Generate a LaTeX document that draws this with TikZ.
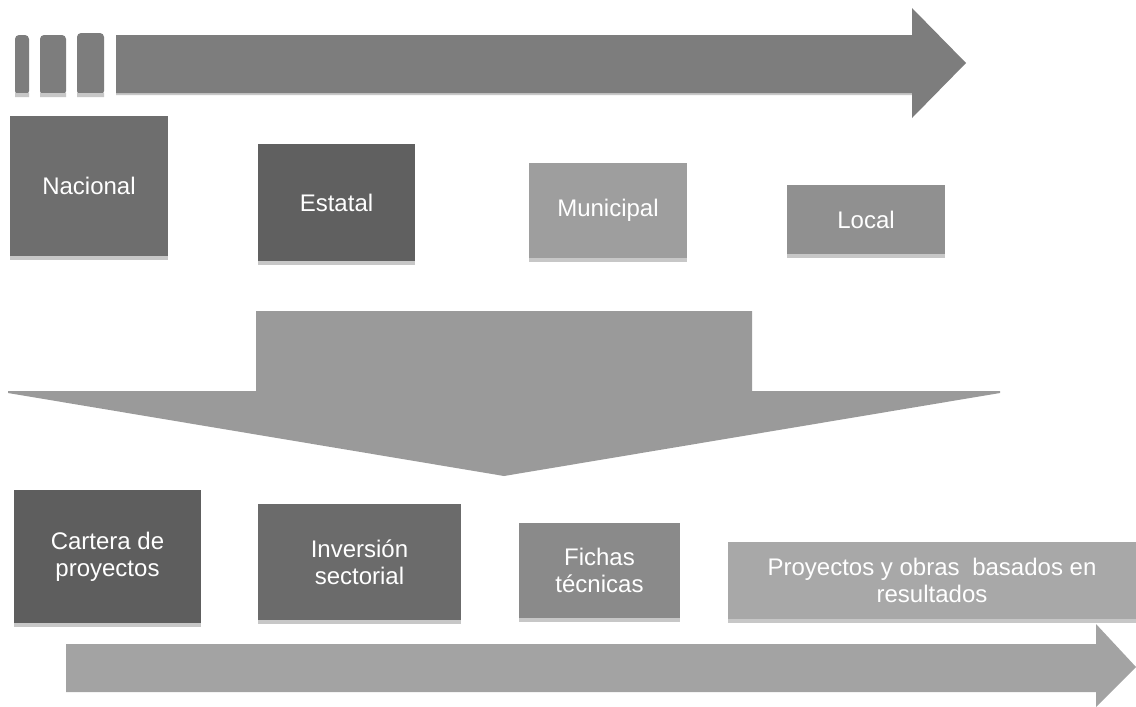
\documentclass[tikz,border=0pt]{standalone}
\usepackage{fontspec}
\setmainfont{Liberation Sans}
\begin{document}
\begin{tikzpicture}[x=1pt,y=-1pt,
  lvl/.style={fill=#1, draw=none, text=white, align=center, inner sep=0pt,
    font=\fontsize{24}{27}\selectfont},
  band/.style={fill=black!22},
]
\definecolor{cNac}{HTML}{6E6E6E}
\definecolor{cEst}{HTML}{606060}
\definecolor{cMun}{HTML}{9E9E9E}
\definecolor{cLoc}{HTML}{909090}
\definecolor{cTop}{HTML}{7D7D7D}
\definecolor{cDown}{HTML}{9A9A9A}
\definecolor{cCar}{HTML}{5E5E5E}
\definecolor{cInv}{HTML}{6B6B6B}
\definecolor{cFic}{HTML}{8A8A8A}
\definecolor{cPro}{HTML}{A8A8A8}
\definecolor{cBot}{HTML}{A3A3A3}
\useasboundingbox (0,0) rectangle (1136,707);
\fill[white] (0,0) rectangle (1136,707);

% top bars and arrow
\fill[cTop, rounded corners=4pt] (15,35) rectangle (29,95);
\fill[cTop, rounded corners=4pt] (40,35) rectangle (66,95);
\fill[cTop, rounded corners=4pt] (77,33) rectangle (104,95);
\fill[band] (15,93) rectangle (29,97) (40,93) rectangle (66,97) (77,93) rectangle (104,97) (116,91) rectangle (912,95);
\fill[cTop] (116,35) -- (912,35) -- (912,8) -- (966,63) -- (912,118) -- (912,93) -- (116,93) -- cycle;

% top level boxes
\node[lvl=cNac, minimum width=158pt, minimum height=140pt] (nac) at (89,186) {Nacional};
\node[lvl=cEst, minimum width=157pt, minimum height=117pt] (est) at (336.5,202.5) {Estatal};
\node[lvl=cMun, minimum width=158pt, minimum height=95pt] (mun) at (608,210.5) {Municipal};
\node[lvl=cLoc, minimum width=158pt, minimum height=69pt] (loc) at (866,219.5) {Local};
\foreach \n in {nac,est,mun,loc}{
  \fill[band] (\n.south west) rectangle ([yshift=-4pt]\n.south east);
}

% big down arrow
\fill[cDown] (256,311) -- (752,311) -- (752,391) -- (1000,391) -- (1000,393) -- (504,476) -- (8,393) -- (8,391) -- (256,391) -- cycle;

% bottom boxes
\node[lvl=cCar, minimum width=187pt, minimum height=133pt] (car) at (107.5,556.5) {Cartera de\\proyectos};
\node[lvl=cInv, minimum width=203pt, minimum height=116pt] (inv) at (359.5,562) {Inversión\\sectorial};
\node[lvl=cFic, minimum width=161pt, minimum height=95pt] (fic) at (599.5,570.5) {Fichas\\técnicas};
\node[lvl=cPro, minimum width=408pt, minimum height=77pt] (pro) at (932,580.5) {Proyectos y obras\hspace{0.25em} basados en\\resultados};
\foreach \n in {car,inv,fic,pro}{
  \fill[band] (\n.south west) rectangle ([yshift=-4pt]\n.south east);
}

% bottom arrow
\fill[cBot] (66,644) -- (1096,644) -- (1096,624) -- (1136,667) -- (1096,707) -- (1096,692) -- (66,692) -- cycle;
\end{tikzpicture}
\end{document}
